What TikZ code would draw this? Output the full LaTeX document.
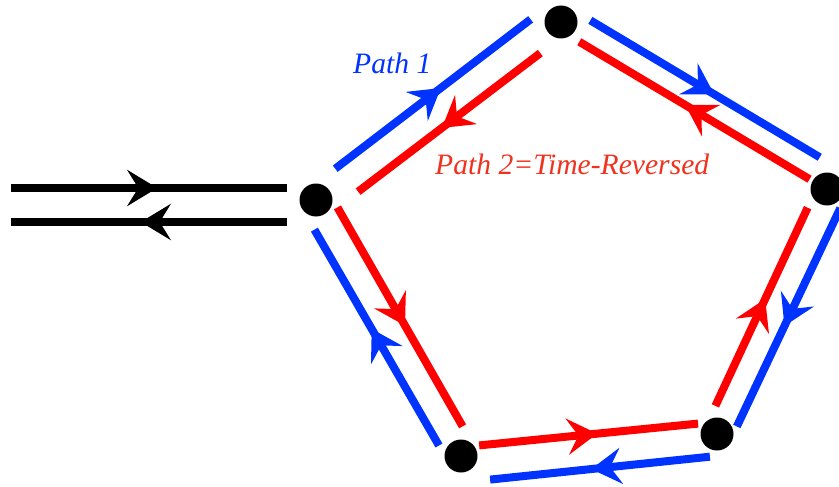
\documentclass[tikz,border=0pt]{standalone}
\usepackage{fontspec}
\setmainfont{Liberation Serif}
\usetikzlibrary{arrows.meta, calc, decorations.markings}
\definecolor{PathBlue}{RGB}{0,51,255}
\definecolor{PathRed}{RGB}{255,0,0}
\definecolor{LabelRed}{RGB}{240,50,30}

\begin{document}
\begin{tikzpicture}[x=1pt, y=-1pt,
    dot/.style={circle, fill=black, minimum size=33pt, inner sep=0pt},
    % lane = {trim at start}{offset at start}{trim at end}{offset at end}
    lane/.style n args={4}{to path={($(\tikztostart)!#1!(\tikztotarget)!#2!90:(\tikztotarget)$) -- ($(\tikztotarget)!#3!(\tikztostart)!#4!-90:(\tikztostart)$)}},
    flow/.style={line width=8pt, postaction={decorate},
                 decoration={markings, mark=at position #1 with {\arrow{Stealth[length=30pt, width=36pt, inset=11pt]}}}},
    flow/.default=0.54,
    fwd/.style={flow, PathBlue},
    rev/.style={flow, PathRed},
    lbl/.style={anchor=base west, inner sep=0pt, font=\fontsize{29.6}{34}\selectfont\itshape}
  ]
  \useasboundingbox (0,0) rectangle (839,487);

  \node[dot] (v1) at (316,200) {};
  \node[dot] (v2) at (561,22)  {};
  \node[dot] (v3) at (827,189) {};
  \node[dot] (v4) at (717,434) {};
  \node[dot] (v5) at (461,456) {};
  \coordinate (feed) at (11,205);
  \coordinate (tap)  at (287,205);

  % lead-in pair
  \draw[flow=0.53, black] (feed) to[lane={0pt}{17pt}{0pt}{17pt}] (tap);
  \draw[flow=0.53, black] (tap) to[lane={0pt}{17pt}{0pt}{17pt}] (feed);

  % Path 1 (clockwise, outside)
  \draw[fwd] (v1) to[lane={34pt}{14pt}{23pt}{20pt}] (v2);
  \draw[fwd] (v2) to[lane={24pt}{17pt}{23pt}{23pt}] (v3);
  \draw[fwd] (v3) to[lane={12pt}{20pt}{15pt}{15pt}] (v4);
  \draw[fwd] (v4) to[lane={9pt}{22pt}{27pt}{26pt}] (v5);
  \draw[fwd] (v5) to[lane={20pt}{14pt}{25pt}{16pt}] (v1);

  % Path 2 (counter-clockwise, inside)
  \draw[rev] (v2) to[lane={35pt}{13pt}{39pt}{18pt}] (v1);
  \draw[rev] (v3) to[lane={20pt}{1pt}{26pt}{7pt}] (v2);
  \draw[rev] (v4) to[lane={25pt}{13pt}{25pt}{10pt}] (v3);
  \draw[rev] (v5) to[lane={19pt}{9pt}{18pt}{12pt}] (v4);
  \draw[rev] (v1) to[lane={17pt}{15pt}{25pt}{16pt}] (v5);

  \node[lbl, PathBlue] (p1) at (353,74)  {Path 1};
  \node[lbl, LabelRed] (p2) at (435,175) {Path 2=Time-Reversed};
\end{tikzpicture}
\end{document}
